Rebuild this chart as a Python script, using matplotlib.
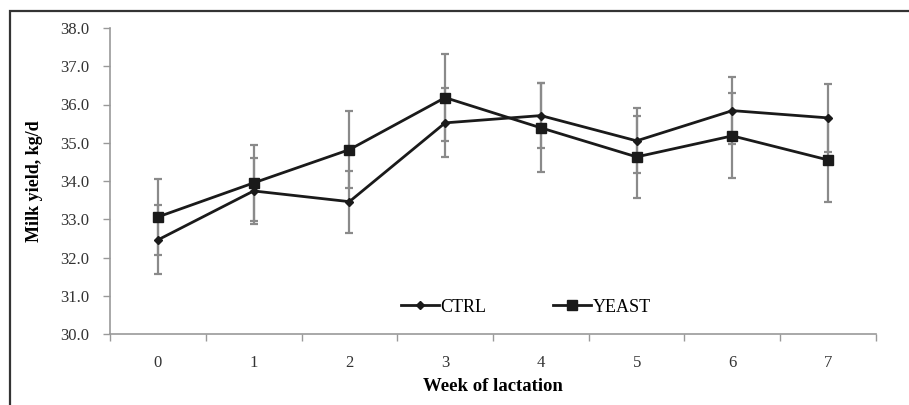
import matplotlib
matplotlib.use("Agg")
import matplotlib.pyplot as plt
from matplotlib.patches import Rectangle

weeks = [0, 1, 2, 3, 4, 5, 6, 7]
week_labels = ["0", "1", "2", "3", "4", "5", "6", "7"]
ctrl = [32.46, 33.74, 33.46, 35.52, 35.71, 35.05, 35.84, 35.65]
ctrl_err = [0.90, 0.86, 0.81, 0.90, 0.85, 0.85, 0.87, 0.89]
yeast = [33.06, 33.95, 34.82, 36.18, 35.39, 34.63, 35.18, 34.55]
yeast_err = [1.00, 1.00, 1.00, 1.13, 1.16, 1.08, 1.11, 1.11]
y_ticks = [30.0, 31.0, 32.0, 33.0, 34.0, 35.0, 36.0, 37.0, 38.0]

plt.rcParams['font.family'] = ['Liberation Serif', 'DejaVu Serif']

fig = plt.figure(figsize=(9.09, 4.05), dpi=100)
fig.patches.append(Rectangle((10 / 909, -0.1), 1.2, (405 - 11) / 405 + 0.1,
                             transform=fig.transFigure, fill=False,
                             edgecolor='#333333', linewidth=1.6))
ax = fig.add_axes([110 / 909, 71 / 405, 766 / 909, 306 / 405])

ecol = '#8a8a8a'
ax.errorbar(weeks, ctrl, yerr=ctrl_err, fmt='none', ecolor=ecol, elinewidth=1.6,
            capsize=3, capthick=1.6, zorder=2)
ax.errorbar(weeks, yeast, yerr=yeast_err, fmt='none', ecolor=ecol, elinewidth=1.6,
            capsize=3, capthick=1.6, zorder=2)
ax.plot(weeks, ctrl, color='#1a1a1a', linewidth=2, marker='D', markersize=4.5,
        label='CTRL', zorder=3)
ax.plot(weeks, yeast, color='#1a1a1a', linewidth=2, marker='s', markersize=7,
        label='YEAST', zorder=3)

ax.set_xlim(-0.5, 7.5)
ax.set_ylim(30, 38)
ax.set_yticks(y_ticks)
ax.set_yticklabels([f"{v:.1f}" for v in y_ticks], fontsize=12, color='#333333')
ax.set_xticks(weeks)
ax.set_xticklabels(week_labels, fontsize=12, color='#333333')
ax.set_xticks([w + 0.5 for w in [-1] + weeks], minor=True)
ax.tick_params(axis='x', which='major', length=0, pad=15)
ax.tick_params(axis='x', which='minor', length=5, color='#999999', width=1)
ax.tick_params(axis='y', length=5, color='#999999', width=1, pad=10)

for s in ['top', 'right']:
    ax.spines[s].set_visible(False)
for s in ['left', 'bottom']:
    ax.spines[s].set_color('#999999')
    ax.spines[s].set_linewidth(1.2)

ax.set_xlabel('Week of lactation', fontsize=13.5, fontweight='bold', labelpad=5)
ax.set_ylabel('Milk yield, kg/d', fontsize=13, fontweight='bold', labelpad=12)

ax.legend(loc='center', bbox_to_anchor=(0.543, 0.088), ncol=2, frameon=False,
          fontsize=13, handlelength=2.1, handletextpad=0.1, columnspacing=3.7)

fig.savefig('out.png', dpi=100)
